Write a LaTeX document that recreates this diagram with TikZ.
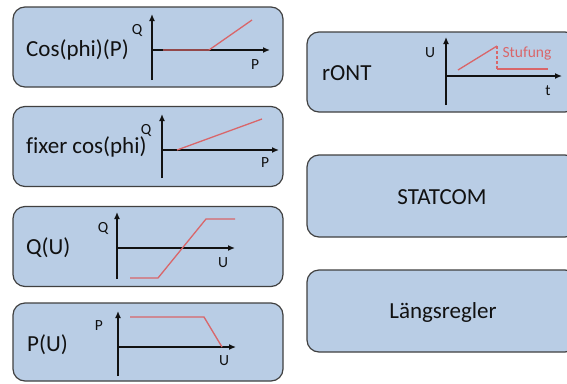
\documentclass[tikz,border=0pt]{standalone}
\usepackage{fontspec}
\setmainfont[Ligatures=CommonOff]{Carlito}
\usetikzlibrary{arrows.meta}
\definecolor{boxfill}{HTML}{B9CDE5}
\definecolor{boxline}{HTML}{404040}
\definecolor{curve}{HTML}{D9666A}
\definecolor{ink}{HTML}{111111}
\begin{document}
\begin{tikzpicture}[x=1pt,y=-1pt,
  box/.style={draw=boxline, fill=boxfill, line width=1.2pt, rounded corners=12pt, inner sep=0pt},
  bigtxt/.style={text=ink, font=\fontsize{23}{27}\selectfont, inner sep=0pt},
  smalltxt/.style={text=ink, font=\fontsize{15.5}{18}\selectfont, inner sep=0pt},
  axis/.style={draw=ink, line width=1.3pt, -{Latex[length=7pt,width=6pt]}},
  vaxis/.style={draw=ink, line width=1.3pt, -{Latex[length=7pt,width=6pt]}},
  curveline/.style={draw=curve, line width=1.3pt}]
\useasboundingbox (0,0) rectangle (567,383);
\clip (0,0) rectangle (567,383);
% boxes
\node[box, minimum width=270pt, minimum height=80pt] (b1) at (148,47) {};
\node[box, minimum width=270pt, minimum height=80pt] (b2) at (148,146.5) {};
\node[box, minimum width=270pt, minimum height=80pt] (b3) at (148,246.5) {};
\node[box, minimum width=270pt, minimum height=78pt] (b4) at (148,342) {};
\node[box, minimum width=270pt, minimum height=80pt] (b5) at (442,72) {};
\node[box, minimum width=270pt, minimum height=82pt] (b6) at (442,196) {};
\node[box, minimum width=270pt, minimum height=82pt] (b7) at (442,311) {};
% labels
\node[bigtxt, anchor=west] (t1) at (26,50) {Cos(phi)(P)};
\node[bigtxt, anchor=west] (t2) at (26,147) {fixer cos(phi)};
\node[bigtxt, anchor=west] (t3) at (26,248) {Q(U)};
\node[bigtxt, anchor=west] (t4) at (27,345) {P(U)};
\node[bigtxt, anchor=west] (t5) at (322,73) {rONT};
\node[bigtxt] (t6) at (442,197) {STATCOM};
\node[bigtxt] (t7) at (443,312) {Längsregler};
% chart 1
\coordinate (o1) at (152,50);
\coordinate (y1) at (152,14);
\coordinate (yb1) at (152,80);
\coordinate (x1) at (270,50);
\draw[vaxis] (yb1) -- (y1);
\draw[axis] (o1) -- (x1);
\coordinate (c1a) at (163,50); \coordinate (c1b) at (209,50); \coordinate (c1c) at (252,20);
\draw[curveline] (c1a) -- (c1b) -- (c1c);
\node[smalltxt] (q1) at (137,30) {Q};
\node[smalltxt] (p1) at (255,65) {P};
% chart 2
\coordinate (o2) at (162,150);
\coordinate (y2) at (162,114);
\coordinate (yb2) at (162,178);
\coordinate (x2) at (279,150);
\draw[vaxis] (yb2) -- (y2);
\draw[axis] (o2) -- (x2);
\coordinate (c2a) at (177,150); \coordinate (c2b) at (262,119);
\draw[curveline] (c2a) -- (c2b);
\node[smalltxt] (q2) at (146,130) {Q};
\node[smalltxt] (p2) at (265,163) {P};
% chart 3
\coordinate (o3) at (117,248);
\coordinate (y3) at (117,212);
\coordinate (yb3) at (117,279);
\coordinate (x3) at (235,248);
\draw[vaxis] (yb3) -- (y3);
\draw[axis] (o3) -- (x3);
\coordinate (c3a) at (130,278); \coordinate (c3b) at (158,278); \coordinate (c3c) at (206,219); \coordinate (c3d) at (235,219);
\draw[curveline] (c3a) -- (c3b) -- (c3c) -- (c3d);
\node[smalltxt] (q3) at (103,228) {Q};
\node[smalltxt] (u3) at (223,263) {U};
% chart 4
\coordinate (o4) at (118,347);
\coordinate (y4) at (118,311);
\coordinate (yb4) at (118,376);
\coordinate (x4) at (236,347);
\draw[vaxis] (yb4) -- (y4);
\draw[axis] (o4) -- (x4);
\coordinate (c4a) at (130,317); \coordinate (c4b) at (204,317); \coordinate (c4c) at (222,347);
\draw[curveline] (c4a) -- (c4b) -- (c4c);
\node[smalltxt] (p4) at (99,326) {P};
\node[smalltxt] (u4) at (224,361) {U};
% chart 5 (rONT)
\coordinate (o5) at (446,76);
\coordinate (y5) at (446,37);
\coordinate (yb5) at (446,105);
\coordinate (x5) at (562,76);
\draw[vaxis] (yb5) -- (y5);
\draw[axis] (o5) -- (x5);
\coordinate (c5a) at (458,70); \coordinate (c5b) at (497,46); \coordinate (c5c) at (497,69); \coordinate (c5d) at (548,69);
\draw[curveline] (c5a) -- (c5b);
\draw[curveline, dashed, dash pattern=on 3pt off 2pt] (c5b) -- (c5c);
\draw[curveline] (c5c) -- (c5d);
\node[smalltxt, text=curve] (s5) at (527,54) {Stufung};
\node[smalltxt] (u5) at (430,53) {U};
\node[smalltxt] (tt5) at (548,91) {t};
\end{tikzpicture}
\end{document}
